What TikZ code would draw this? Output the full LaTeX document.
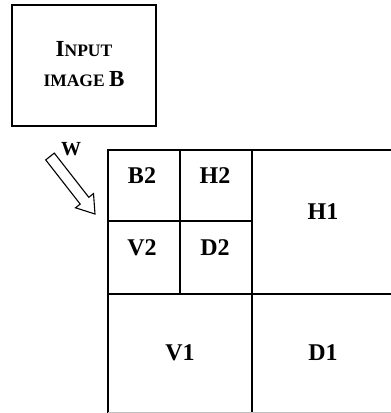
\documentclass[tikz,border=0pt]{standalone}
\usepackage{fontspec}
\setmainfont{Liberation Serif}
\begin{document}
\begin{tikzpicture}[x=1pt,y=-1pt,
  frame/.style={draw=black,line width=1.8pt},
  cell/.style={font=\bfseries\fontsize{24}{28}\selectfont,inner sep=0pt},
]
\useasboundingbox (0,0) rectangle (391,413);
% input box
\draw[frame] (12,5) rectangle (156,126);
\node[inner sep=0pt,align=center,font=\bfseries] (inp) at (84,64)
  {{\fontsize{23}{23}\selectfont I}{\fontsize{17.5}{23}\selectfont NPUT}\\[13pt]
   {\fontsize{17.5}{23}\selectfont IMAGE }{\fontsize{23}{23}\selectfont B}};
% arrow W
\draw[line width=1.1pt,line join=miter,fill=white]
  (54.3,153.1) -- (88.8,197.3) -- (93.5,193.6) -- (95,214) -- (75.5,207.8)
  -- (80.2,204.1) -- (45.7,159.9) -- cycle;
\node[font=\bfseries\fontsize{20}{22}\selectfont,inner sep=0pt] (w) at (71,149) {W};
% grid
\begin{scope}
\clip (0,0) rectangle (391,413);
\draw[frame] (108,440) -- (108,150) -- (400,150);
\draw[frame] (252,150) -- (252,440);
\draw[frame] (108,294) -- (400,294);
\draw[frame] (180,150) -- (180,294);
\draw[frame] (108,221) -- (252,221);
\end{scope}
\draw[gray!50,line width=0.8pt] (108,412.5) -- (391,412.5);
% labels
\node[cell] (b2) at (142,176) {B2};
\node[cell] (h2) at (215,176) {H2};
\node[cell] (v2) at (142,248) {V2};
\node[cell] (d2) at (215,248) {D2};
\node[cell] (h1) at (323,212) {H1};
\node[cell] (v1) at (180,353) {V1};
\node[cell] (d1) at (323,353) {D1};
\end{tikzpicture}
\end{document}
